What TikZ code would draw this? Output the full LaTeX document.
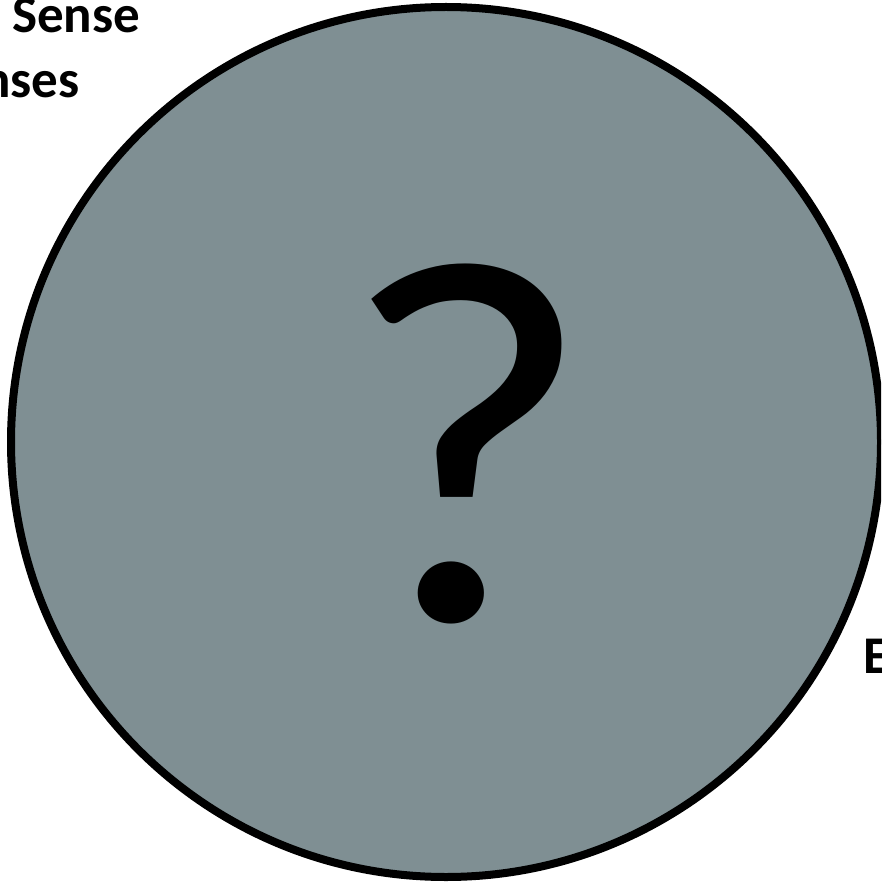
\documentclass[tikz,border=0pt]{standalone}
\usepackage{fontspec}
\setmainfont{Carlito}
\definecolor{discgray}{RGB}{127,143,147}
\begin{document}
\begin{tikzpicture}[x=1pt,y=-1pt,
  lbl/.style={inner sep=0pt,font=\fontsize{53}{56}\selectfont\bfseries,text=black},
  disc/.style={draw=black,line width=8pt,fill=discgray}]
\useasboundingbox (0,0) rectangle (881,882);
\clip (0,0) rectangle (881,882);
\node[disc,circle,minimum size=870pt,inner sep=0pt] (c) at (446,442) {};
\node[inner sep=0pt,anchor=base,xscale=1.06,font=\fontsize{522}{522}\selectfont] (q) at (467,620) {?};
\node[lbl,anchor=base west] (t1) at (12,33) {Sense};
\node[lbl,anchor=base east] (t2) at (80,97.5) {nses};
\node[lbl,anchor=base west] (t3) at (863,673) {E};
\end{tikzpicture}
\end{document}
